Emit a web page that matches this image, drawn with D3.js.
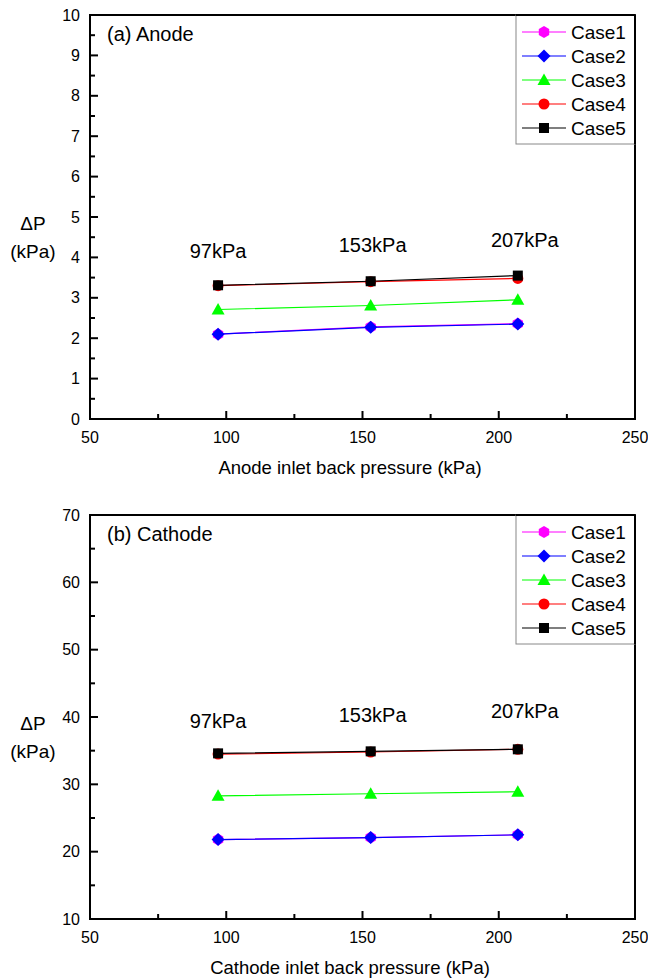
<!DOCTYPE html>
<html>
<head>
<meta charset="utf-8">
<script src="https://cdn.jsdelivr.net/npm/d3@7"></script>
<style>
body { margin: 0; background: #fff; }
svg { font-family: "Liberation Sans", Arial, sans-serif; }
</style>
</head>
<body>
<svg class="chart" width="648" height="979"></svg>
<script>
// back pressures (kPa)
var pressures = [97, 153, 207];
var pressureLabels = ["97kPa", "153kPa", "207kPa"];
var cases = ["Case1", "Case2", "Case3", "Case4", "Case5"];

// anode pressure drop (kPa)
var anode1 = [2.10, 2.28, 2.36];
var anode2 = [2.10, 2.27, 2.35];
var anode3 = [2.71, 2.81, 2.95];
var anode4 = [3.30, 3.40, 3.48];
var anode5 = [3.31, 3.41, 3.55];

// cathode pressure drop (kPa)
var cathode1 = [21.8, 22.1, 22.5];
var cathode2 = [21.8, 22.1, 22.5];
var cathode3 = [28.3, 28.6, 28.9];
var cathode4 = [34.5, 34.8, 35.2];
var cathode5 = [34.6, 34.9, 35.2];

var xTicks = [50, 100, 150, 200, 250];
var anodeTicks = [0, 1, 2, 3, 4, 5, 6, 7, 8, 9, 10];
var cathodeTicks = [10, 20, 30, 40, 50, 60, 70];

var colors = ["#ff00ff", "#0000ff", "#00ff00", "#ff0000", "#000000"];
var shapes = ["hex", "diamond", "triangle", "circle", "square"];

var svg = d3.select("svg.chart");

function marker(g, shape, color, x, y) {
    var p;
    if (shape == "circle") {
        g.append("circle").attr("cx", x).attr("cy", y).attr("r", 5.5).attr("fill", color);
        return;
    }
    if (shape == "square") {
        g.append("rect").attr("x", x - 5).attr("y", y - 5).attr("width", 10).attr("height", 10).attr("fill", color);
        return;
    }
    if (shape == "diamond") p = [[0, -6.5], [6.5, 0], [0, 6.5], [-6.5, 0]];
    if (shape == "triangle") p = [[0, -6.5], [6.5, 5], [-6.5, 5]];
    if (shape == "hex") p = d3.range(6).map(function(i) {
        var a = Math.PI / 3 * i + Math.PI / 6;
        return [6 * Math.cos(a), 6 * Math.sin(a)];
    });
    g.append("polygon")
        .attr("points", p.map(function(d) { return (x + d[0]) + "," + (y + d[1]); }).join(" "))
        .attr("fill", color);
}

function drawPanel(cfg) {
    var x = d3.scaleLinear().domain([50, 250]).range([90, 635]);
    var y = d3.scaleLinear().domain(cfg.domain).range([cfg.bottom, cfg.top]);
    var g = svg.append("g");

    // frame
    g.append("rect")
        .attr("x", x(50)).attr("y", cfg.top)
        .attr("width", x(250) - x(50)).attr("height", cfg.bottom - cfg.top)
        .attr("fill", "none").attr("stroke", "#000").attr("stroke-width", 2);

    // x ticks (inward)
    var xMinor = d3.range(75, 250, 50);
    g.selectAll(".xmaj").data(xTicks).enter().append("line")
        .attr("x1", function(d) { return x(d); }).attr("x2", function(d) { return x(d); })
        .attr("y1", cfg.bottom).attr("y2", cfg.bottom - 8)
        .attr("stroke", "#000").attr("stroke-width", 2);
    g.selectAll(".xmin").data(xMinor).enter().append("line")
        .attr("x1", function(d) { return x(d); }).attr("x2", function(d) { return x(d); })
        .attr("y1", cfg.bottom).attr("y2", cfg.bottom - 5)
        .attr("stroke", "#000").attr("stroke-width", 2);
    g.selectAll(".xlab").data(xTicks).enter().append("text")
        .attr("x", function(d) { return x(d); }).attr("y", cfg.bottom + 24)
        .attr("text-anchor", "middle").attr("font-size", 16)
        .text(function(d) { return d; });

    // y ticks
    var step = cfg.yTicks[1] - cfg.yTicks[0];
    var yMinor = cfg.yTicks.slice(0, -1).map(function(d) { return d + step / 2; });
    g.selectAll(".ymaj").data(cfg.yTicks).enter().append("line")
        .attr("x1", x(50)).attr("x2", x(50) + 8)
        .attr("y1", function(d) { return y(d); }).attr("y2", function(d) { return y(d); })
        .attr("stroke", "#000").attr("stroke-width", 2);
    g.selectAll(".ymin").data(yMinor).enter().append("line")
        .attr("x1", x(50)).attr("x2", x(50) + 5)
        .attr("y1", function(d) { return y(d); }).attr("y2", function(d) { return y(d); })
        .attr("stroke", "#000").attr("stroke-width", 2);
    g.selectAll(".ylab").data(cfg.yTicks).enter().append("text")
        .attr("x", x(50) - 10).attr("y", function(d) { return y(d) + 5.5; })
        .attr("text-anchor", "end").attr("font-size", 16)
        .text(function(d) { return d; });

    // titles
    g.append("text").attr("x", 107).attr("y", cfg.top + 26)
        .attr("font-size", 20).text(cfg.title);
    g.append("text").attr("x", 350).attr("y", cfg.bottom + 55)
        .attr("text-anchor", "middle").attr("font-size", 18.5).text(cfg.xTitle);
    g.append("text").attr("x", 33).attr("y", cfg.labelY)
        .attr("text-anchor", "middle").attr("font-size", 19).text("ΔP");
    g.append("text").attr("x", 33).attr("y", cfg.labelY + 28)
        .attr("text-anchor", "middle").attr("font-size", 19).text("(kPa)");

    // series
    var line = d3.line()
        .x(function(d, i) { return x(pressures[i]); })
        .y(function(d) { return y(d); });
    cfg.series.forEach(function(s, k) {
        g.append("path").attr("d", line(s))
            .attr("fill", "none").attr("stroke", colors[k]).attr("stroke-width", 1.2);
        s.forEach(function(v, i) { marker(g, shapes[k], colors[k], x(pressures[i]), y(v)); });
    });

    // pressure annotations (last one sits a bit right of its point)
    var annDx = [0, 2, 7];
    g.selectAll(".ann").data(pressureLabels).enter().append("text")
        .attr("x", function(d, i) { return x(pressures[i]) + annDx[i]; })
        .attr("y", function(d, i) { return cfg.annY[i]; })
        .attr("text-anchor", "middle").attr("font-size", 20)
        .text(function(d) { return d; });

    // legend
    var lg = g.append("g");
    lg.append("rect").attr("x", 516).attr("y", cfg.top).attr("width", 119).attr("height", 129)
        .attr("fill", "#fff").attr("stroke", "#888").attr("stroke-width", 1);
    lg.append("line").attr("x1", 635).attr("x2", 635).attr("y1", cfg.top).attr("y2", cfg.top + 129)
        .attr("stroke", "#000").attr("stroke-width", 2);
    lg.append("line").attr("x1", 516).attr("x2", 635).attr("y1", cfg.top).attr("y2", cfg.top)
        .attr("stroke", "#000").attr("stroke-width", 2);
    cases.forEach(function(c, k) {
        var ly = cfg.top + 17 + k * 24;
        lg.append("line").attr("x1", 522).attr("x2", 566).attr("y1", ly).attr("y2", ly)
            .attr("stroke", colors[k]).attr("stroke-width", 1.2);
        marker(lg, shapes[k], colors[k], 544, ly);
        lg.append("text").attr("x", 571).attr("y", ly + 7).attr("font-size", 19).text(c);
    });
}

drawPanel({
    domain: [0, 10], yTicks: anodeTicks, top: 15, bottom: 419,
    title: "(a) Anode", xTitle: "Anode inlet back pressure (kPa)", labelY: 230,
    series: [anode1, anode2, anode3, anode4, anode5], annY: [258, 252, 247]
});
drawPanel({
    domain: [10, 70], yTicks: cathodeTicks, top: 515, bottom: 919,
    title: "(b) Cathode", xTitle: "Cathode inlet back pressure (kPa)", labelY: 730,
    series: [cathode1, cathode2, cathode3, cathode4, cathode5], annY: [728, 722, 718]
});
</script>
</body>
</html>
